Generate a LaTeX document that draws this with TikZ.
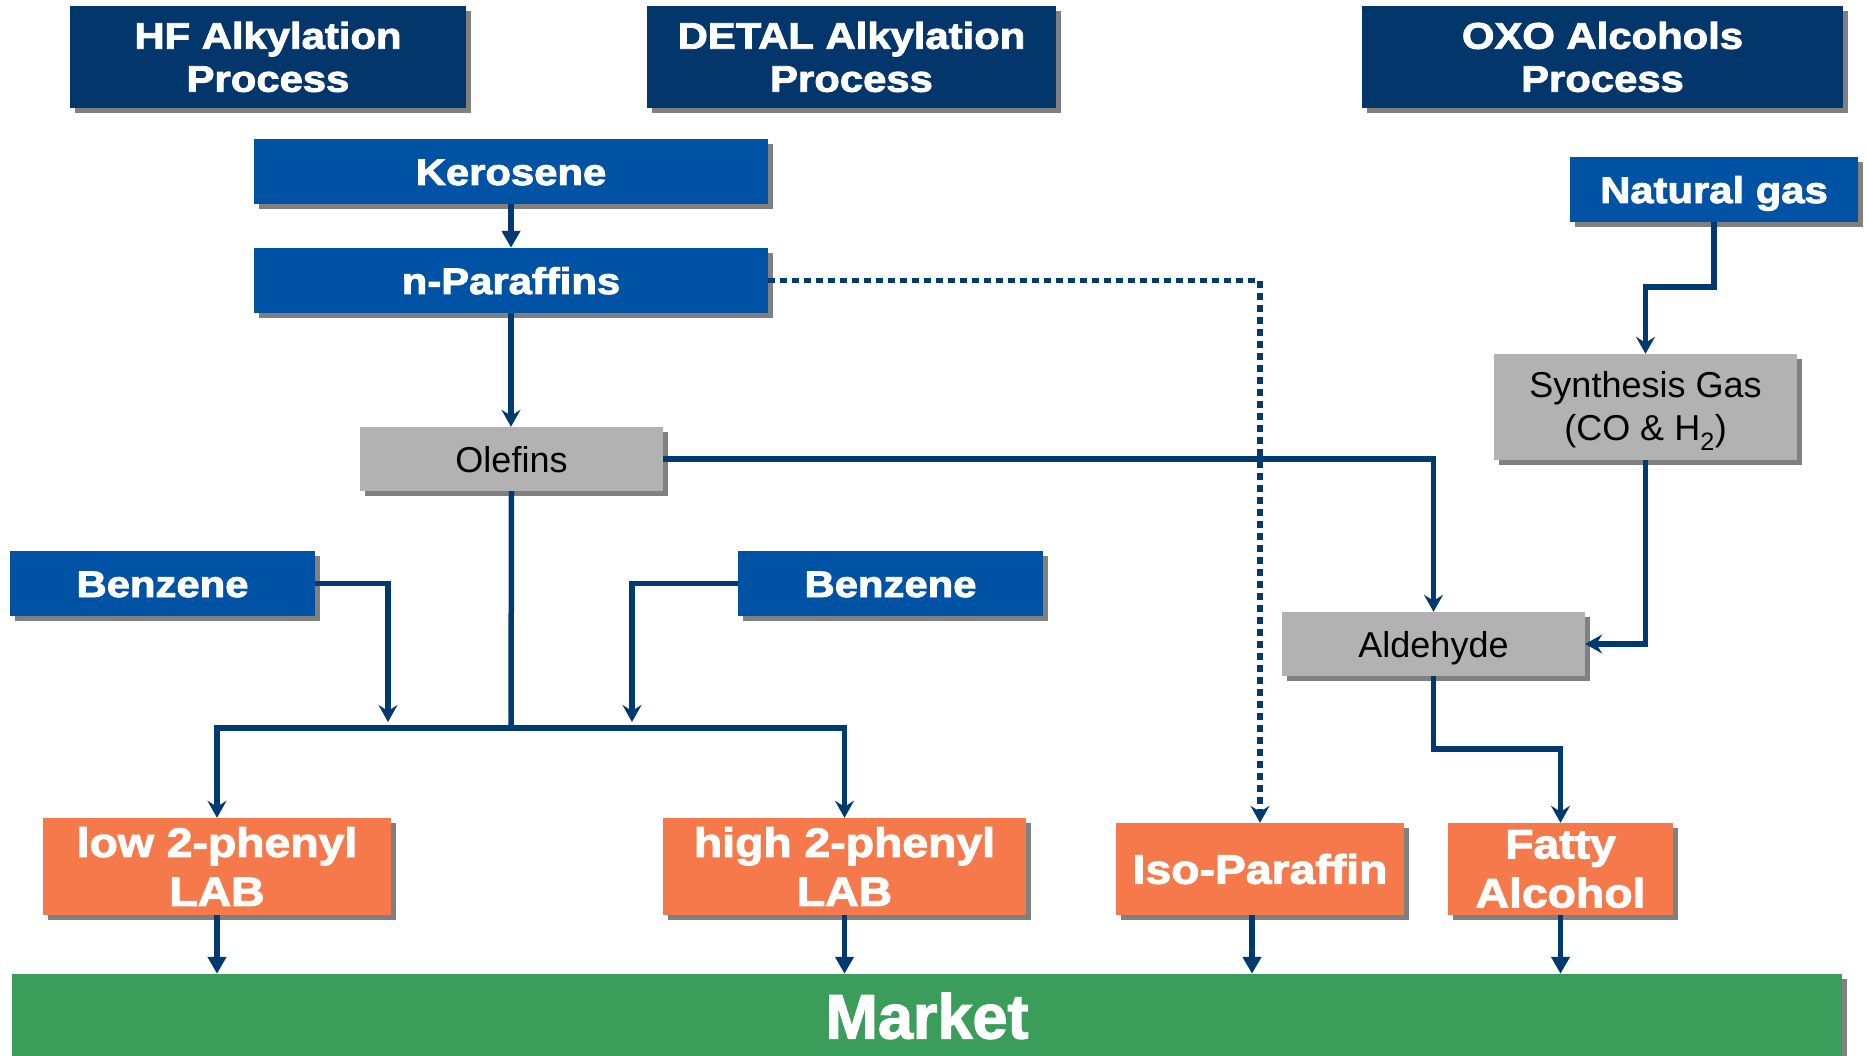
\documentclass[tikz,border=0pt]{standalone}
\usepackage{fontspec}
\setmainfont{Liberation Sans}[BoldFeatures={FakeBold=2}]
\newfontfamily\wbf[FakeStretch=1.13, BoldFeatures={FakeBold=2.5}]{Liberation Sans}
\usetikzlibrary{arrows.meta,shadows}
\definecolor{hdrblue}{HTML}{03366B}
\definecolor{boxblue}{HTML}{0052A5}
\definecolor{boxgray}{HTML}{B2B2B2}
\definecolor{shadowgray}{HTML}{808080}
\definecolor{boxorange}{HTML}{F6794B}
\definecolor{mktgreen}{HTML}{3A9E5A}
\definecolor{linenavy}{HTML}{003A70}
\tikzset{
  boxbase/.style={rectangle, inner sep=0pt, align=center,
    drop shadow={shadow xshift=5pt, shadow yshift=-5pt, fill=shadowgray, opacity=1}},
  hdrbox/.style={boxbase, fill=hdrblue, text=white, font=\wbf\bfseries\fontsize{37}{43}\selectfont, minimum height=102pt},
  bluebox/.style={boxbase, fill=boxblue, text=white, font=\wbf\bfseries\fontsize{37}{43}\selectfont, minimum height=65pt},
  graybox/.style={boxbase, fill=boxgray, text=black, font=\fontsize{36}{43}\selectfont, minimum height=64pt},
  prodbox/.style={boxbase, fill=boxorange, text=white, font=\wbf\bfseries\fontsize{41}{49}\selectfont, minimum height=92pt},
  mktbox/.style={boxbase, fill=mktgreen, text=white, font=\bfseries\fontsize{63}{70}\selectfont},
  oneline/.style={text height=27pt, text depth=0pt},
  flow/.style={draw=linenavy, line width=5.5pt, -{Stealth[length=17pt,width=19pt,inset=6pt]}},
  flowtri/.style={draw=linenavy, line width=5.5pt, -{Triangle[length=17pt,width=18pt]}},
  dotflow/.style={flow, dash pattern=on 7pt off 5pt},
  plainline/.style={draw=linenavy, line width=5.5pt},
}
\begin{document}
\begin{tikzpicture}[x=1pt,y=-1pt]
\clip (0,0) rectangle (1867,1056);
% headers
\node[hdrbox, minimum width=396pt] (hf) at (268,57) {HF Alkylation\\Process};
\node[hdrbox, minimum width=409pt] (detal) at (851.5,57) {DETAL Alkylation\\Process};
\node[hdrbox, minimum width=481pt] (oxo) at (1602.5,57) {OXO Alcohols\\Process};
% feeds and intermediates
\node[bluebox, oneline, minimum width=514pt] (kero) at (511,171.5) {Kerosene};
\node[bluebox, oneline, minimum width=514pt] (npar) at (511,280.5) {n-Paraffins};
\node[bluebox, oneline, minimum width=288pt] (ngas) at (1714,189.5) {Natural gas};
\node[graybox, minimum width=303pt, minimum height=106pt] (syn) at (1645.5,407) {\rule{0pt}{34pt}Synthesis Gas\\(CO \& H\textsubscript{2})};
\node[graybox, oneline, minimum width=303pt] (olef) at (511.5,459) {Olefins};
\node[bluebox, oneline, minimum width=305pt] (benzL) at (162.5,583.5) {Benzene};
\node[bluebox, oneline, minimum width=305pt] (benzR) at (890.5,583.5) {Benzene};
\node[graybox, oneline, minimum width=303pt] (ald) at (1433.5,644) {Aldehyde};
% products
\node[prodbox, minimum width=348pt, minimum height=97pt] (lowlab) at (217,866.5) {low 2-phenyl\\LAB};
\node[prodbox, minimum width=363pt, minimum height=97pt] (highlab) at (844.5,866.5) {high 2-phenyl\\LAB};
\node[prodbox, minimum width=288pt] (iso) at (1260,869) {Iso-Paraffin};
\node[prodbox, minimum width=225pt] (fatty) at (1560.5,869) {Fatty\\Alcohol};
\node[mktbox, minimum width=1830pt, minimum height=84pt] (market) at (927,1016) {Market};
% connectors
\draw[flowtri] (kero.south) -- (kero.south |- npar.north);
\draw[flow] (npar.south) -- (npar.south |- olef.north);
\draw[flow] (olef.east) -| (ald.north);
\coordinate (bus) at (511,728);
\draw[plainline] (olef.south) -- (bus);
\draw[flow] (bus) -| (lowlab.north);
\draw[flow] (bus) -| (highlab.north);
\coordinate (bLend) at (388,722);
\coordinate (bRend) at (632,722);
\draw[flow] (benzL.east) -| (bLend);
\draw[flow] (benzR.west) -| (bRend);
\draw[flow] (ngas.south) -- ++(0,65) -| (syn.north);
\draw[flow] (syn.south) |- (ald.east);
\draw[flow] (ald.south) -- ++(0,73) -| (fatty.north);
\draw[dotflow] (npar.east) -| (iso.north);
\draw[flowtri] (lowlab.south) -- (lowlab.south |- market.north);
\draw[flowtri] (highlab.south) -- (highlab.south |- market.north);
\draw[flowtri] ([xshift=-8pt]iso.south) -- ([xshift=-8pt]iso.south |- market.north);
\draw[flowtri] (fatty.south) -- (fatty.south |- market.north);
\end{tikzpicture}
\end{document}
